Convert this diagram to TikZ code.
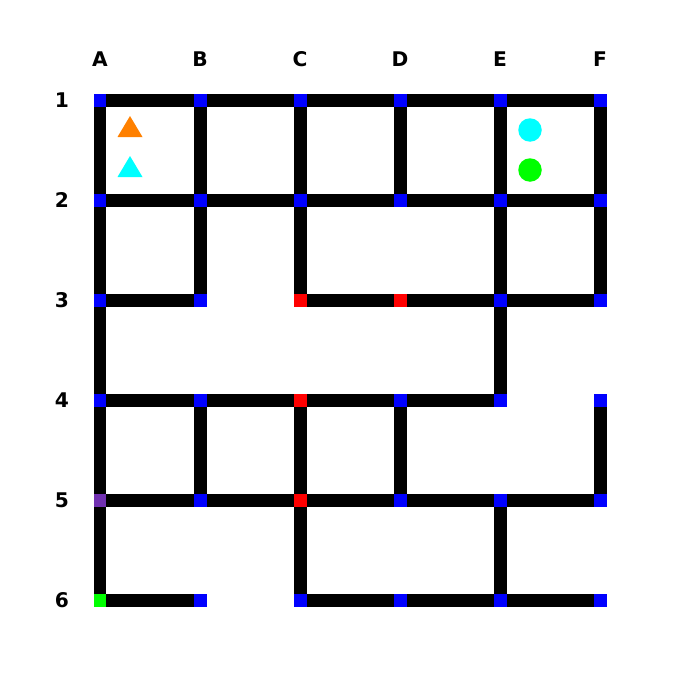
\documentclass[tikz,border=0pt]{standalone}
\usepackage{fontspec}
\setmainfont{DejaVu Sans}
\begin{document}
\begin{tikzpicture}[x=0.02cm,y=-0.02cm,
  wall/.style={line width=0.26cm,black},
  cell/.style={minimum size=0.26cm,inner sep=0pt,outer sep=0pt},
  lbl/.style={font=\bfseries\fontsize{11.5}{12}\selectfont,inner sep=0pt}]
\definecolor{nblue}{RGB}{0,0,255}
\definecolor{nred}{RGB}{255,0,0}
\definecolor{npurple}{RGB}{112,48,176}
\definecolor{ngreen}{RGB}{0,255,0}
\definecolor{norange}{RGB}{255,128,0}
\definecolor{ncyan}{RGB}{0,255,255}
\useasboundingbox (0,0) rectangle (700,700);
% coordinates
\foreach \c [count=\i] in {A,B,C,D,E,F}{
  \foreach \r in {1,...,6}{
    \coordinate (\c\r) at (\i*100,\r*100);
  }
  \node[lbl] (col\c) at (\i*100,59) {\c};
}
\foreach \r in {1,...,6}{\node[lbl] (row\r) at (62,\r*100) {\r};}
% horizontal walls
\foreach \a/\b in {A1/B1,B1/C1,C1/D1,D1/E1,E1/F1,
  A2/B2,B2/C2,C2/D2,D2/E2,E2/F2,
  A3/B3,C3/D3,D3/E3,E3/F3,
  A4/B4,B4/C4,C4/D4,D4/E4,
  A5/B5,B5/C5,C5/D5,D5/E5,E5/F5,
  A6/B6,C6/D6,D6/E6,E6/F6}
  {\draw[wall] (\a) -- (\b);}
% vertical walls
\foreach \a/\b in {A1/A2,A2/A3,A3/A4,A4/A5,A5/A6,
  B1/B2,B2/B3,B4/B5,
  C1/C2,C2/C3,C4/C5,C5/C6,
  D1/D2,D4/D5,
  E1/E2,E2/E3,E3/E4,E5/E6,
  F1/F2,F2/F3,F4/F5}
  {\draw[wall] (\a) -- (\b);}
% node squares
\foreach \c in {A,B,C,D,E,F}{
  \foreach \r in {1,...,6}{
    \node[cell,fill=nblue] (n\c\r) at (\c\r) {};
  }
}
\foreach \n in {C3,D3,C4,C5}{\node[cell,fill=nred] at (\n) {};}
\node[cell,fill=npurple] at (A5) {};
\node[cell,fill=ngreen] at (A6) {};
% objects
\fill[norange] (117.5,137) -- (142.5,137) -- (130,116) -- cycle;
\fill[ncyan] (117.5,177) -- (142.5,177) -- (130,156) -- cycle;
\fill[ncyan] (530,130) circle (0.235cm);
\fill[ngreen] (530,170) circle (0.235cm);
\end{tikzpicture}
\end{document}
